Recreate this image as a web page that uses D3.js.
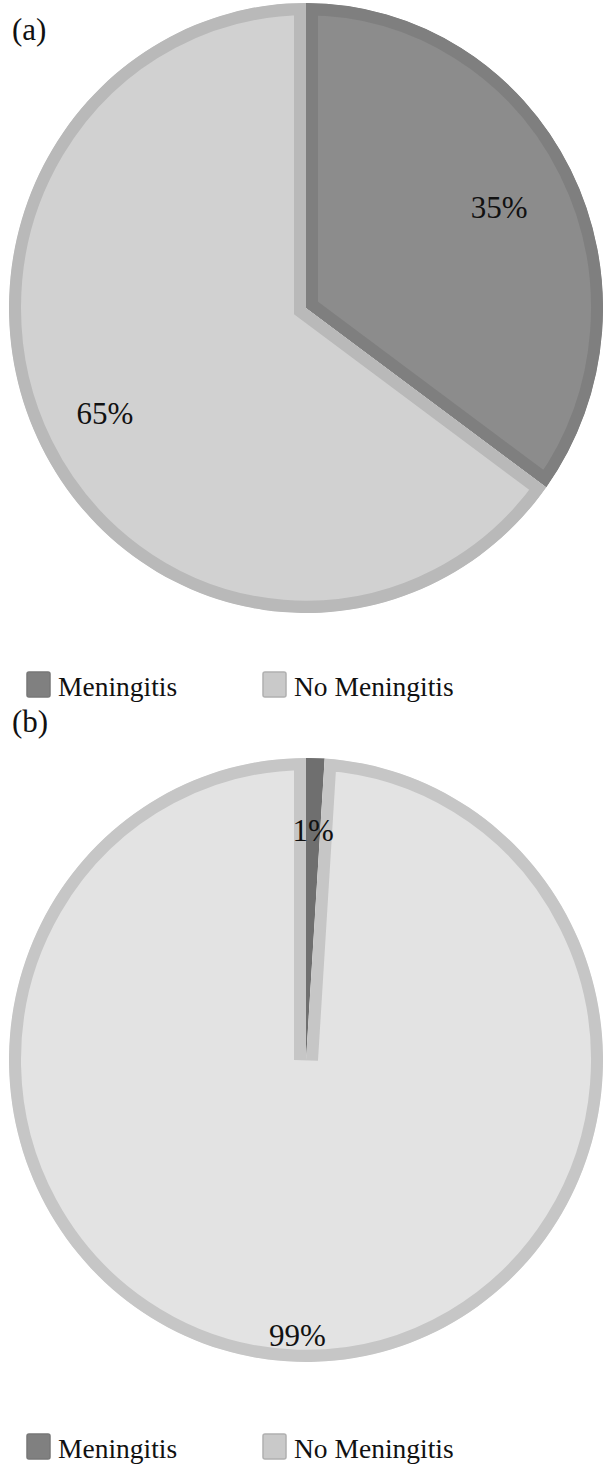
<!DOCTYPE html>
<html lang="en">
<head>
  <meta charset="UTF-8">
  <title>Meningitis pie charts</title>
  <script src="https://cdn.jsdelivr.net/npm/d3@7"></script>
  <style>
    body { margin: 0; background: #fff; }
    text { font-family: "Liberation Serif", serif; fill: #111; }
  </style>
</head>
<body>
  <svg width="604" height="1465"></svg>
<script>
  // data
  const categories = ["Meningitis", "No Meningitis"];
  const valuesA = [35, 65];
  const valuesB = [1, 99];
  const panelLabels = ["(a)", "(b)"];

  const svg = d3.select("svg");

  // panel settings: centre, radii, colours
  const panels = [
    {
      tag: panelLabels[0], values: valuesA, cx: 306, cy: 308, rx: 297, ry: 305,
      fills: ["#8c8c8c", "#d1d1d1"], borders: ["#7f7f7f", "#b9b9b9"],
      labelR: [0.73, 0.76], tagY: 40, legendY: 685
    },
    {
      tag: panelLabels[1], values: valuesB, cx: 306, cy: 1060, rx: 297, ry: 302,
      fills: ["#7a7a7a", "#e3e3e3"], borders: ["#6f6f6f", "#c6c6c6"],
      labelR: [0.76, 0.91], tagY: 732, legendY: 1447
    }
  ];

  const pie = d3.pie().sort(null).value(d => d);

  panels.forEach((p, pi) => {
    const g = svg.append("g")
      .attr("transform", `translate(${p.cx},${p.cy}) scale(1,${p.ry / p.rx})`);

    const arc = d3.arc().innerRadius(0).outerRadius(p.rx);
    const arcs = pie(p.values);

    // slices with an inner border (stroke clipped to the slice)
    arcs.forEach((a, i) => {
      const id = `clip-${pi}-${i}`;
      g.append("clipPath").attr("id", id)
        .append("path").attr("d", arc(a));
      g.append("path")
        .attr("d", arc(a))
        .attr("fill", p.fills[i])
        .attr("stroke", p.borders[i])
        .attr("stroke-width", 24)
        .attr("clip-path", `url(#${id})`);
    });

    // percentage labels
    arcs.forEach((a, i) => {
      const r = p.rx * p.labelR[i];
      const la = d3.arc().innerRadius(r).outerRadius(r);
      const [x, y] = la.centroid(a);
      svg.append("text")
        .attr("x", p.cx + x)
        .attr("y", p.cy + y * p.ry / p.rx)
        .attr("text-anchor", "middle")
        .attr("dy", "0.35em")
        .attr("font-size", 31)
        .text(p.values[i] + "%");
    });

    // panel tag
    svg.append("text")
      .attr("x", 12).attr("y", p.tagY)
      .attr("font-size", 31)
      .text(p.tag);

    // legend
    const legendX = d3.scalePoint().domain(categories).range([27, 263]);
    const lg = svg.append("g");
    categories.forEach((c, i) => {
      lg.append("rect")
        .attr("x", legendX(c)).attr("y", p.legendY - 13)
        .attr("width", 23).attr("height", 25)
        .attr("rx", 2)
        .attr("fill", i === 0 ? "#808080" : "#c9c9c9")
        .attr("stroke", i === 0 ? "#777" : "#b0b0b0")
        .attr("stroke-width", 1.5);
      lg.append("text")
        .attr("x", legendX(c) + 31).attr("y", p.legendY + 11)
        .attr("font-size", 27.5)
        .text(c);
    });
  });
</script>
</body>
</html>
